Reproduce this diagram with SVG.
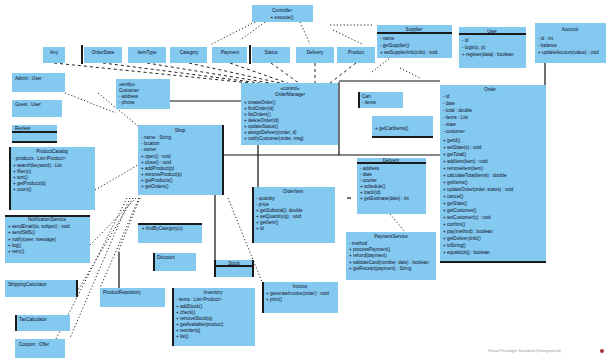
<svg xmlns="http://www.w3.org/2000/svg" width="606" height="358" viewBox="0 0 606 358">
<style>
.b{fill:#84C9F0}
.t{font-family:"Liberation Sans",Arial,sans-serif;font-size:4.6px;fill:#0d0d26}
.c{text-anchor:middle}
.k{stroke:#1a1a1a;stroke-width:2;fill:none}
.s{stroke:#111;stroke-width:1.2;fill:none}
.d{stroke:#222;stroke-width:1;stroke-dasharray:1.2 2.2;fill:none}
.e{stroke:#222;stroke-width:1;stroke-dasharray:3 3;fill:none}
.w{font-family:"Liberation Sans",Arial,sans-serif;font-size:4px;fill:#999}
</style>
<rect width="606" height="358" fill="#fff"/>
<g id="connectors">
<path class="s" d="M170 101H241M222 155H440M258 145V188M215 195V260M119 252V288M339 82V155M339 81H440M545 63V85"/>
<path class="k" d="M223 125V195M82 45V64M250 45V64"/>
<path class="e" d="M54 63L250 83M103 63L260 83M147 63L270 83M189 63L280 83M230 63L290 84M271 63L300 84M315 63L315 83M356 63L330 83"/>
<path class="d" d="M330 25H372M333 30L362 44M372 72L390 58M255 22L210 45M265 22L240 40M300 22L310 44M65 93L116 113M98 93L138 126M95 190L138 165"/>
<path class="d" d="M130 198L70 338M133 198L78 290M136 198L90 245M127 198L48 355M139 198L100 288M140 198L118 252"/>
<path class="d" d="M228 198L262 282M390 214L405 232M400 68L420 78"/>
<path class="s" d="M347 198h4"/>
</g>
<g id="top">
<rect class="b" x="252" y="5" width="61" height="17"/>
<text class="t c" x="282" y="12">Controller</text>
<text class="t c" x="282" y="19">+ execute()</text>
</g>
<g id="row1"><rect class="b" x="43" y="47" width="22" height="16"/><text class="t c" x="54" y="54">Any</text></g>
<g id="row2"><rect class="b" x="84" y="47" width="38" height="16"/><text class="t c" x="103" y="54">OrderState</text></g>
<g id="row3"><rect class="b" x="128" y="47" width="38" height="16"/><text class="t c" x="147" y="54">ItemType</text></g>
<g id="row4"><rect class="b" x="170" y="47" width="37" height="16"/><text class="t c" x="189" y="54">Category</text></g>
<g id="row5"><rect class="b" x="212" y="47" width="35" height="16"/><text class="t c" x="230" y="54">Payment</text></g>
<g id="row6"><rect class="b" x="252" y="47" width="38" height="16"/><text class="t c" x="271" y="54">Status</text></g>
<g id="row7"><rect class="b" x="296" y="47" width="38" height="16"/><text class="t c" x="315" y="54">Delivery</text></g>
<g id="row8"><rect class="b" x="337" y="47" width="38" height="16"/><text class="t c" x="356" y="54">Product</text></g>
<g id="tr1">
<rect class="b" x="377" y="25" width="75" height="33"/>
<path class="k" d="M377 33H452"/>
<text class="t c" x="414" y="31">Supplier</text>
<text class="t" x="380" y="40">- name</text>
<text class="t" x="380" y="47">- getSupplier()</text>
<text class="t" x="380" y="54">+ setSupplierInfo(info) : void</text>
</g>
<g id="tr2">
<rect class="b" x="459" y="27" width="67" height="41"/>
<path class="k" d="M459 34H526"/>
<text class="t c" x="492" y="33">User</text>
<text class="t" x="462" y="42">- id</text>
<text class="t" x="462" y="49">- login(u, p)</text>
<text class="t" x="462" y="56">+ register(data) : boolean</text>
</g>
<g id="tr3">
<rect class="b" x="535" y="23" width="71" height="40"/>
<text class="t c" x="570" y="31">Account</text>
<text class="t" x="538" y="40">- id : int</text>
<text class="t" x="538" y="47">- balance</text>
<text class="t" x="538" y="54">+ updateAccount(value) : void</text>
</g>
<g id="right">
<rect class="b" x="440" y="85" width="106" height="177"/>
<path class="k" d="M440 262H546"/>
<text class="t c" x="490" y="91">Order</text>
<text class="t" x="443" y="98">- id</text>
<text class="t" x="443" y="105">- date</text>
<text class="t" x="443" y="112">- total : double</text>
<text class="t" x="443" y="119">- items : List</text>
<text class="t" x="443" y="126">- state</text>
<text class="t" x="443" y="133">- customer</text>
<text class="t" x="443" y="142">+ getId()</text>
<text class="t" x="443" y="149">+ setState(s) : void</text>
<text class="t" x="443" y="156">+ getTotal()</text>
<text class="t" x="443" y="163">+ addItem(item) : void</text>
<text class="t" x="443" y="170">+ removeItem(item)</text>
<text class="t" x="443" y="177">+ calculateTotal(items) : double</text>
<text class="t" x="443" y="184">+ getItems()</text>
<text class="t" x="443" y="191">+ updateOrder(order, status) : void</text>
<text class="t" x="443" y="198">+ cancel()</text>
<text class="t" x="443" y="205">+ getState()</text>
<text class="t" x="443" y="212">+ getCustomer()</text>
<text class="t" x="443" y="219">+ setCustomer(c) : void</text>
<text class="t" x="443" y="226">+ confirm()</text>
<text class="t" x="443" y="233">+ pay(method) : boolean</text>
<text class="t" x="443" y="240">+ getDeliveryInfo()</text>
<text class="t" x="443" y="247">+ toString()</text>
<text class="t" x="443" y="254">+ equals(obj) : boolean</text>
</g>
<g id="center">
<rect class="b" x="241" y="83" width="97" height="62"/>
<text class="t c" x="290" y="90">«control»</text>
<text class="t c" x="290" y="96">OrderManager</text>
<text class="t" x="244" y="104">+ createOrder()</text>
<text class="t" x="244" y="110">+ findOrder(id)</text>
<text class="t" x="244" y="116">+ listOrders()</text>
<text class="t" x="244" y="122">+ deleteOrder(id)</text>
<text class="t" x="244" y="128">+ updateStatus()</text>
<text class="t" x="244" y="134">+ assignDelivery(order, d)</text>
<text class="t" x="244" y="140">+ notifyCustomer(order, msg)</text>
</g>
<g id="n1">
<rect class="b" x="116" y="79" width="54" height="30"/>
<text class="t" x="119" y="86">«entity»</text>
<text class="t" x="119" y="92">Customer</text>
<text class="t" x="119" y="98">- address</text>
<text class="t" x="119" y="104">- phone</text>
</g>
<g id="n2">
<rect class="b" x="138" y="125" width="84" height="70"/>
<text class="t c" x="180" y="132">Shop</text>
<text class="t" x="141" y="139">- name : String</text>
<text class="t" x="141" y="145">- location</text>
<text class="t" x="141" y="151">- owner</text>
<text class="t" x="141" y="158">+ open() : void</text>
<text class="t" x="141" y="164">+ close() : void</text>
<text class="t" x="141" y="170">+ addProduct(p)</text>
<text class="t" x="141" y="176">+ removeProduct(p)</text>
<text class="t" x="141" y="182">+ getProducts()</text>
<text class="t" x="141" y="188">+ getOrders()</text>
</g>
<g id="n3">
<rect class="b" x="358" y="92" width="45" height="16"/>
<path class="k" d="M359 92V108"/>
<text class="t" x="362" y="98">Cart</text>
<text class="t" x="362" y="104">- items</text>
</g>
<g id="n4">
<rect class="b" x="372" y="116" width="61" height="22"/>
<path class="k" d="M372 137H433"/>
<text class="t" x="375" y="130">+ getCartItems()</text>
</g>
<g id="n5">
<rect class="b" x="252" y="187" width="83" height="56"/>
<path class="k" d="M253 187V243"/>
<text class="t c" x="293" y="193">OrderItem</text>
<text class="t" x="256" y="200">- quantity</text>
<text class="t" x="256" y="206">- price</text>
<text class="t" x="256" y="212">+ getSubtotal(): double</text>
<text class="t" x="256" y="218">+ setQuantity(q) : void</text>
<text class="t" x="256" y="224">+ getItem()</text>
<text class="t" x="256" y="230">+ id</text>
</g>
<g id="n6">
<rect class="b" x="357" y="158" width="69" height="56"/>
<path class="k" d="M357 163H426"/>
<text class="t c" x="391" y="162">Delivery</text>
<text class="t" x="360" y="170">- address</text>
<text class="t" x="360" y="176">- date</text>
<text class="t" x="360" y="182">- courier</text>
<text class="t" x="360" y="188">+ schedule()</text>
<text class="t" x="360" y="194">+ track(id)</text>
<text class="t" x="360" y="200">+ getEstimate(date) : int</text>
</g>
<g id="n7">
<rect class="b" x="346" y="232" width="90" height="48"/>
<text class="t c" x="391" y="238">PaymentService</text>
<text class="t" x="349" y="245">- method</text>
<text class="t" x="349" y="251">+ processPayment()</text>
<text class="t" x="349" y="257">+ refund(payment)</text>
<text class="t" x="349" y="264">+ validateCard(number, date) : boolean</text>
<text class="t" x="349" y="270">+ getReceipt(payment) : String</text>
</g>
<g id="n8">
<rect class="b" x="262" y="282" width="76" height="31"/>
<path class="k" d="M263 282V313"/>
<text class="t c" x="300" y="288">Invoice</text>
<text class="t" x="266" y="295">+ generateInvoice(order) : void</text>
<text class="t" x="266" y="301">+ print()</text>
</g>
<g id="n9">
<rect class="b" x="215" y="260" width="38" height="17"/>
<path class="k" d="M215 266H253M215 260V277M253 260V277"/>
<text class="t c" x="234" y="265">Stock</text>
</g>
<g id="n10">
<rect class="b" x="172" y="288" width="83" height="58"/>
<path class="k" d="M173 288V346"/>
<text class="t c" x="213" y="294">Inventory</text>
<text class="t" x="176" y="301">- items : List&lt;Product&gt;</text>
<text class="t" x="176" y="308">+ addStock()</text>
<text class="t" x="176" y="314">+ check()</text>
<text class="t" x="176" y="320">+ removeStock(q)</text>
<text class="t" x="176" y="326">+ getAvailable(product)</text>
<text class="t" x="176" y="332">+ reorder(q)</text>
<text class="t" x="176" y="338">+ list()</text>
</g>
<g id="n11">
<rect class="b" x="100" y="288" width="65" height="19"/>
<text class="t" x="103" y="294">ProductRepository</text>
</g>
<g id="n12">
<rect class="b" x="138" y="223" width="64" height="20"/>
<path class="k" d="M138 224H202"/>
<text class="t" x="142" y="230">+ findByCategory(c)</text>
</g>
<g id="n13">
<rect class="b" x="153" y="253" width="43" height="18"/>
<path class="k" d="M154 253V271"/>
<text class="t" x="157" y="259">Discount</text>
</g>
<g id="l1"><rect class="b" x="12" y="73" width="53" height="19"/><text class="t" x="15" y="80">Admin : User</text></g>
<g id="l2"><rect class="b" x="12" y="100" width="50" height="17"/><text class="t" x="15" y="106">Guest : User</text></g>
<g id="l3"><rect class="b" x="12" y="125" width="45" height="18"/><path class="k" d="M12 132H57M12 142H57"/><text class="t" x="15" y="130">Review</text></g>
<g id="l4">
<rect class="b" x="9" y="147" width="86" height="63"/>
<path class="k" d="M10 147V210"/>
<text class="t c" x="52" y="153">ProductCatalog</text>
<text class="t" x="13" y="160">- products : List&lt;Product&gt;</text>
<text class="t" x="13" y="167">+ search(keyword) : List</text>
<text class="t" x="13" y="173">+ filter(c)</text>
<text class="t" x="13" y="179">+ sort()</text>
<text class="t" x="13" y="185">+ getProduct(id)</text>
<text class="t" x="13" y="191">+ count()</text>
</g>
<g id="l5">
<rect class="b" x="5" y="215" width="85" height="48"/>
<path class="k" d="M5 216H90"/>
<text class="t c" x="47" y="221">NotificationService</text>
<text class="t" x="8" y="228">+ sendEmail(to, subject) : void</text>
<text class="t" x="8" y="234">+ sendSMS()</text>
<text class="t" x="8" y="241">+ notify(user, message)</text>
<text class="t" x="8" y="247">+ log()</text>
<text class="t" x="8" y="253">+ retry()</text>
</g>
<g id="l6"><rect class="b" x="5" y="280" width="73" height="17"/><path class="k" d="M77 280V297"/><text class="t" x="8" y="286">ShippingCalculator</text></g>
<g id="l7"><rect class="b" x="15" y="315" width="55" height="16"/><path class="k" d="M16 315V331"/><text class="t" x="19" y="321">TaxCalculator</text></g>
<g id="l8"><rect class="b" x="15" y="339" width="50" height="19"/><text class="t" x="19" y="346">Coupon : Offer</text></g>
<text class="w" x="488" y="352">Visual Paradigm Standard (Unregistered)</text>
<circle cx="602" cy="351" r="2" fill="#a33"/>
</svg>
